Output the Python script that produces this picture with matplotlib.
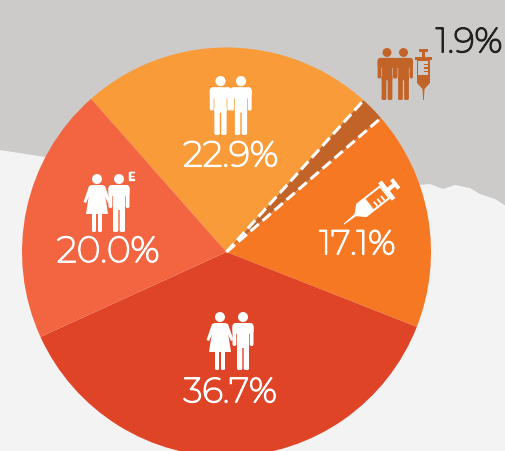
import numpy as np
import matplotlib
matplotlib.use("Agg")
import matplotlib.pyplot as plt
import matplotlib.patheffects as pe
from matplotlib.patches import Circle, Polygon, FancyBboxPatch
from matplotlib.transforms import Affine2D

plt.rcParams['font.family'] = ['Montserrat', 'Open Sans', 'DejaVu Sans']

# valeurs (le total ne fait pas 100)
labels = ["22.9%", "1.9%", "17.1%", "36.7%", "20.0%"]
values = [22.9, 1.9, 17.1, 36.7, 20.0]
colors = ["#f99b39", "#c26428", "#f77823", "#e04427", "#f36541"]

# bord dechire entre le gris et le fond clair
edge_x = [0, 45, 420, 430, 443, 455, 470, 480, 495, 506]
edge_y = [151, 158, 186, 185, 190, 186, 189, 195, 200, 207]

W, H = 506, 452
fig = plt.figure(figsize=(W / 100, H / 100), dpi=100, facecolor="#f4f3f4")
ax = fig.add_axes([0, 0, 1, 1])

cx, cy, r = 226.5, H - 253, 204.5


def Y(y):
    return H - y


# fond
ax.add_patch(Polygon([(0, H)] + [(x, Y(y)) for x, y in zip(edge_x, edge_y)] + [(W, H)],
                     closed=True, fc="#cccbca", ec="none", zorder=0))

wedges, _ = ax.pie(values, colors=colors, startangle=131.5, counterclock=False,
                   center=(cx, cy), radius=r, wedgeprops=dict(linewidth=0))
for w in wedges:
    w.set_zorder(2)

# lignes pointillees autour de la petite part
a0 = np.deg2rad(131.5 - 360 * values[0] / sum(values))
a1 = np.deg2rad(131.5 - 360 * (values[0] + values[1]) / sum(values))
for a in (a0, a1):
    ax.plot([cx, cx + r * np.cos(a)], [cy, cy + r * np.sin(a)], color="white", lw=2.2,
            dashes=(3.6, 1.6), zorder=3, solid_capstyle="butt")

ax.set_xlim(0, W)
ax.set_ylim(0, H)
ax.set_aspect("auto")
ax.axis("off")


def rbox(x0, y0, x1, y1, color, rad=1.0):
    # y en pixels image, y0 en haut
    p = FancyBboxPatch((x0 + rad, Y(y1) + rad), x1 - x0 - 2 * rad, y1 - y0 - 2 * rad,
                       boxstyle="round,pad=%f,rounding_size=%f" % (rad, rad),
                       fc=color, ec="none", zorder=5)
    ax.add_patch(p)


def man(x, top, h, color):
    # x = axe du bonhomme, top = haut de la tete, h = hauteur totale
    s = h / 58.0
    ax.add_patch(Circle((x, Y(top + 5 * s)), 5 * s, fc=color, ec="none", zorder=5))
    rbox(x - 10.5 * s, top + 11 * s, x + 10.5 * s, top + 22 * s, color, 3 * s)
    rbox(x - 10.5 * s, top + 13 * s, x - 6.7 * s, top + 34 * s, color, 1.8 * s)
    rbox(x + 6.7 * s, top + 13 * s, x + 10.5 * s, top + 34 * s, color, 1.8 * s)
    rbox(x - 6 * s, top + 12 * s, x + 6 * s, top + 36 * s, color, 0.5 * s)
    rbox(x - 6 * s, top + 30 * s, x - 0.7 * s, top + 58 * s, color, 1.6 * s)
    rbox(x + 0.7 * s, top + 30 * s, x + 6 * s, top + 58 * s, color, 1.6 * s)


def woman(x, top, h, color):
    s = h / 58.0
    ax.add_patch(Circle((x, Y(top + 5 * s)), 5 * s, fc=color, ec="none", zorder=5))
    pts = [(-5, 11), (5, 11), (7, 14), (11, 40), (-11, 40), (-7, 14)]
    ax.add_patch(Polygon([(x + a * s, Y(top + b * s)) for a, b in pts], closed=True,
                         fc=color, ec="none", zorder=5))
    for sign in (-1, 1):
        pts = [(sign * 5, 11), (sign * 8, 12), (sign * 13.5, 28), (sign * 11, 29), (sign * 5, 16)]
        ax.add_patch(Polygon([(x + a * s, Y(top + b * s)) for a, b in pts], closed=True,
                             fc=color, ec="none", zorder=5))
    rbox(x - 5 * s, top + 38 * s, x - 1 * s, top + 58 * s, color, 1.4 * s)
    rbox(x + 1 * s, top + 38 * s, x + 5 * s, top + 58 * s, color, 1.4 * s)


def syringe(x, y, s, angle, color, inner):
    # dessine debout, aiguille en bas, (x, y) = bout de l'aiguille
    tr = Affine2D().rotate_deg(angle).translate(x, Y(y)) + ax.transData
    def poly(pts, c, z=5):
        ax.add_patch(Polygon([(a * s, b * s) for a, b in pts], closed=True, fc=c, ec="none",
                             zorder=z, transform=tr))
    poly([(-0.4, 0), (0.4, 0), (1, 11), (6.5, 17), (6.5, 40), (-6.5, 40), (-6.5, 17), (-1, 11)], color)
    poly([(-8.5, 40), (8.5, 40), (8.5, 43.5), (-8.5, 43.5)], color)
    poly([(-1.6, 43), (1.6, 43), (1.6, 49), (-1.6, 49)], color)
    poly([(-4.5, 48.5), (4.5, 48.5), (4.5, 51.5), (-4.5, 51.5)], color)
    poly([(-5, 25), (5, 25), (5, 39), (-5, 39)], inner, 6)
    for b in (28, 31.5, 35):
        poly([(0.5, b), (5, b), (5, b + 1.4), (0.5, b + 1.4)], color, 7)


# icones
man(220.5, 77, 59, "white")
man(241, 77, 59, "white")
woman(97, 175, 58, "white")
man(119, 175, 58, "white")
ax.text(131.5, Y(178), "E", color="white", fontsize=7.5, ha="center", va="center", zorder=8,
        path_effects=[pe.withStroke(linewidth=1.0, foreground="white")])
woman(220, 313, 58, "white")
man(243, 313, 58, "white")
man(387, 49, 52, "#c26428")
man(403.5, 49, 52, "#c26428")
syringe(423.5, 101, 1.0, 0, "#c26428", "#cccbca")
syringe(344, 225, 1.3, -52, "white", "#f77823")

# etiquettes
label_pos = [(230.5, 158), (469, 44), (357.5, 246), (230, 394), (108, 253)]
label_size = [25.5, 25, 24.5, 25, 26]
label_col = ["white", "#222222", "white", "white", "white"]
for t, (x, y), fs, c in zip(labels, label_pos, label_size, label_col):
    ax.text(x, Y(y), t, color=c, fontsize=fs, ha="center", va="center", zorder=8,
            path_effects=[pe.withStroke(linewidth=1.2, foreground=c)])

fig.savefig("out.png", dpi=100, facecolor=fig.get_facecolor())
